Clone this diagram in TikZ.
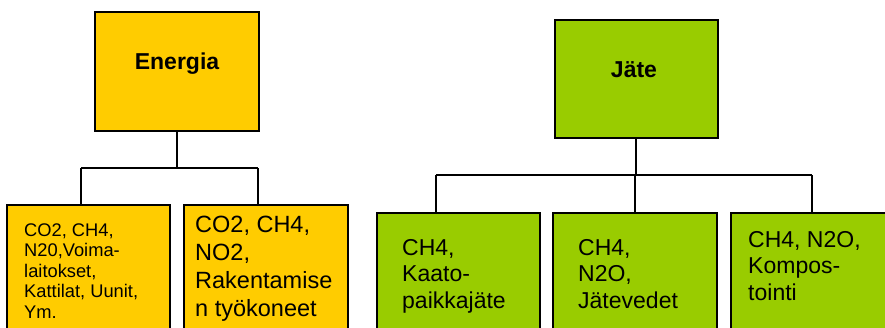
\documentclass[tikz,border=0pt]{standalone}
\usepackage{fontspec}
\setmainfont{Liberation Sans}
\definecolor{orng}{HTML}{FFCC00}
\definecolor{grn}{HTML}{99CC00}
\begin{document}
\begin{tikzpicture}[x=1pt,y=-1pt,
  box/.style={draw=black, line width=1.3pt, inner sep=0pt, outer sep=0pt, anchor=north west},
  obox/.style={box, fill=orng},
  gbox/.style={box, fill=grn},
  conn/.style={draw=black, line width=1.1pt},
  title/.style={font=\bfseries\fontsize{23}{27}\selectfont, anchor=base, inner sep=0pt},
  small/.style={font=\fontsize{18.3}{20.5}\selectfont, align=left, anchor=base west, inner sep=0pt},
  big/.style={font=\fontsize{23.5}{27.8}\selectfont, align=left, anchor=base west, inner sep=0pt},
  gtext/.style={font=\fontsize{23}{26.5}\selectfont, align=left, anchor=base west, inner sep=0pt}]
\useasboundingbox (0,0) rectangle (885,327);
\clip (0,0) rectangle (885,327);
% top boxes
\node[obox, minimum width=164pt, minimum height=119pt] (en) at (95,12) {};
\node[gbox, minimum width=163pt, minimum height=118pt] (ja) at (555,20) {};
\node[title] (ent) at (177,69) {Energia};
\node[title] (jat) at (634,77) {Jäte};
% bottom boxes
\node[obox, minimum width=163pt, minimum height=140pt] (b1) at (7,205) {};
\node[obox, minimum width=164pt, minimum height=140pt] (b2) at (184,205) {};
\node[gbox, minimum width=163pt, minimum height=140pt] (b3) at (377,213) {};
\node[gbox, minimum width=164pt, minimum height=140pt] (b4) at (553,213) {};
\node[gbox, minimum width=180pt, minimum height=140pt] (b5) at (731,213) {};
% texts (anchored at the baseline of the last line)
\node[small] (t1) at (24,318) {CO2, CH4,\\N20,Voima-\\laitokset,\\Kattilat, Uunit,\\Ym.};
\node[big] (t2) at (195,316) {CO2, CH4,\\NO2,\\Rakentamise\\n työkoneet};
\node[gtext] (t3) at (402,308) {CH4,\\Kaato-\\paikkajäte};
\node[gtext] (t4) at (578,308) {CH4,\\N2O,\\Jätevedet};
\node[gtext] (t5) at (748,300) {CH4, N2O,\\Kompos-\\tointi};
% connectors
\coordinate (eh) at (177,168);
\coordinate (e1) at (81,168);
\coordinate (e2) at (258,168);
\draw[conn] (en.south) -- (en.south |- eh);
\draw[conn] (e1) -- (e2);
\draw[conn] (e1) -- (e1 |- b1.north);
\draw[conn] (e2) -- (e2 |- b2.north);
\coordinate (jh) at (636,175);
\coordinate (j3) at (436,175);
\coordinate (j4) at (635,175);
\coordinate (j5) at (812,175);
\draw[conn] (ja.south -| jh) -- (jh);
\draw[conn] (j3) -- (j5);
\draw[conn] (j3) -- (j3 |- b3.north);
\draw[conn] (j4) -- (j4 |- b4.north);
\draw[conn] (j5) -- (j5 |- b5.north);
\end{tikzpicture}
\end{document}
